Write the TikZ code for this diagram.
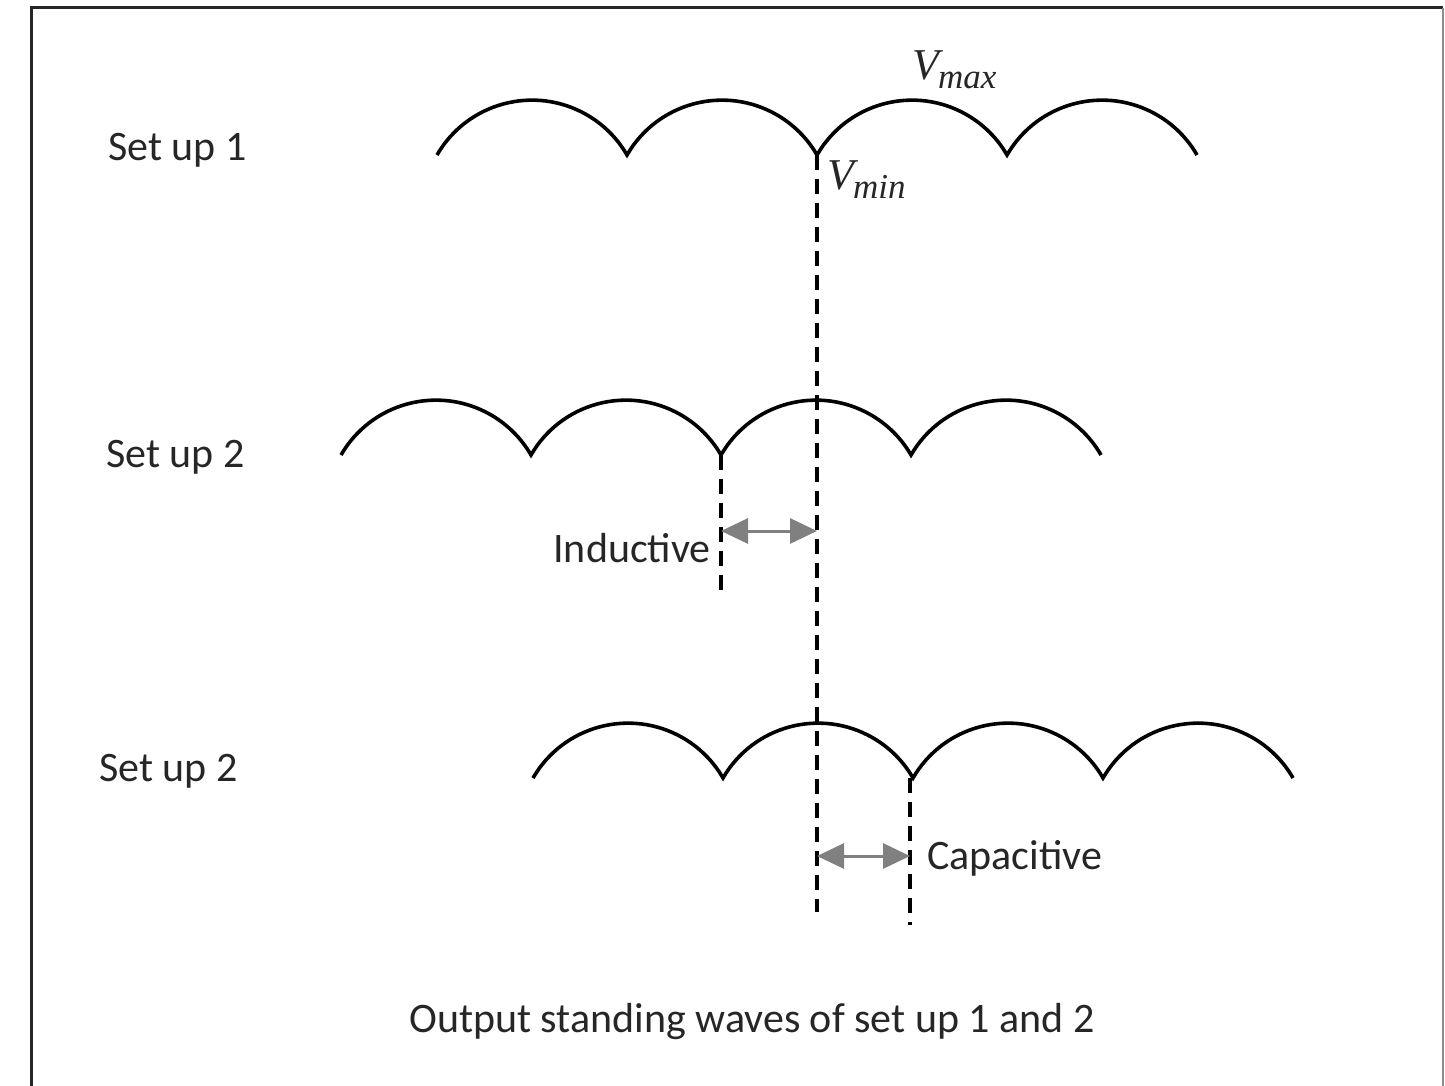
\documentclass[tikz,border=0pt]{standalone}
\usepackage{fix-cm}
\usepackage{fontspec}
\setmainfont{Carlito}
\newfontfamily\vfont{Liberation Serif}
\usetikzlibrary{arrows.meta}
\tikzset{
  wave/.style={line width=3.6pt, black, line join=miter},
  vline/.style={line width=3.5pt, black, dash pattern=on 15pt off 9pt},
  gap/.style={line width=3pt, black!50, {Triangle[length=27pt,width=25pt]}-{Triangle[length=27pt,width=25pt]}},
  lbl/.style={font=\fontsize{42}{50}\selectfont, text=black!85, inner sep=0pt},
  mlbl/.style={font=\fontsize{44}{52}\selectfont, text=black!85, inner sep=0pt},
  frame/.style={line width=3pt, black!85}
}
\newcommand{\wavefour}[2]{%
  \draw[wave] (#1,#2) arc[start angle=210,end angle=330,radius=109.7]
    arc[start angle=210,end angle=330,radius=109.7]
    arc[start angle=210,end angle=330,radius=109.7]
    arc[start angle=210,end angle=330,radius=109.7];}
\newcommand{\vsub}[1]{{\vfont\itshape V}\kern-1pt\raisebox{-9pt}{\fontsize{35}{40}\selectfont\vfont\itshape #1}}
\begin{document}
\begin{tikzpicture}[x=1pt,y=-1pt]
\useasboundingbox (0,0) rectangle (1445,1086);
% frame
\draw[frame] (31,1090) -- (31,8) -- (1443,8);
\draw[line width=2pt, black!45] (1443,8) -- (1443,1090);
% waves
\wavefour{437}{155}
\wavefour{341}{455}
\wavefour{533}{778}
% key points
\coordinate (c1) at (817,155);
\coordinate (c1e) at (817,912);
\coordinate (c2) at (721,455);
\coordinate (c2e) at (721,590);
\coordinate (c3) at (910,778);
\coordinate (c3e) at (910,925);
\coordinate (ia) at (721,531);
\coordinate (ib) at (817,531);
\coordinate (ca) at (817,856);
\coordinate (cb) at (910,856);
% dashed verticals
\draw[vline] (c1) -- (c1e);
\draw[vline] (c2) -- (c2e);
\draw[vline] (c3) -- (c3e);
% arrows
\draw[gap] (ia) -- (ib);
\draw[gap] (ca) -- (cb);
% labels
\node[lbl, anchor=west] (s1) at (108,150) {Set up 1};
\node[lbl, anchor=west] (s2) at (106,457) {Set up 2};
\node[lbl, anchor=west] (s3) at (99,771) {Set up 2};
\node[lbl, anchor=east] (ind) at (711,548) {Inductive};
\node[lbl, anchor=west] (cap) at (927,858) {Capacitive};
\node[mlbl, anchor=west] (vmax) at (912,70) {\vsub{max}};
\node[mlbl, anchor=west] (vmin) at (827,180) {\vsub{min}};
\node[lbl] (cap2) at (752,1022) {Output standing waves of set up 1 and 2};
\end{tikzpicture}
\end{document}
